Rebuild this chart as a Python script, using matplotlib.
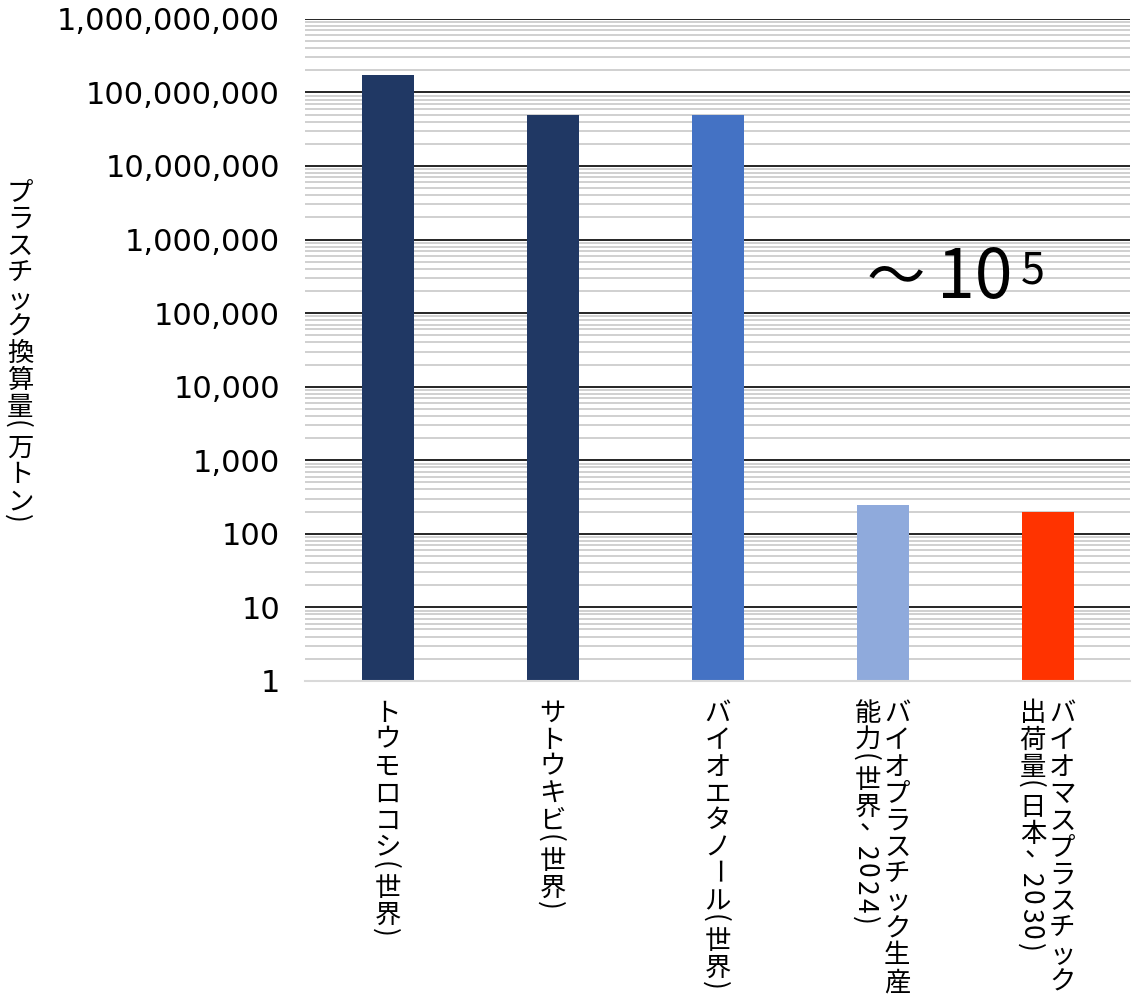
import matplotlib
matplotlib.use("Agg")
import matplotlib.pyplot as plt
import matplotlib.transforms as mtransforms
from matplotlib.font_manager import FontProperties
import numpy as np

plt.rcParams['font.family'] = ['Noto Sans CJK JP', 'DejaVu Sans']

# data (万トン)
categories = [
    ['トウモロコシ(世界)'],
    ['サトウキビ(世界)'],
    ['バイオエタノール(世界)'],
    ['バイオプラスチック生産', '能力(世界、2024)'],
    ['バイオマスプラスチック', '出荷量(日本、2030)'],
]
values = [170000000, 50000000, 50000000, 250, 200]
bar_colors = ['#203864', '#203864', '#4472C4', '#8FAADC', '#FF3300']
y_label = 'プラスチック換算量(万トン)'
y_ticks = [10 ** k for k in range(10)]

FS = 19
fp = FontProperties(family=['Noto Sans CJK JP', 'DejaVu Sans'], size=FS)


def advance(ch):
    # vertical step for one character, in points
    if ch in '()':
        return FS * 0.5
    if ch.isdigit():
        return FS * 0.66
    if ch == ' ':
        return FS * 0.3
    return FS * 1.02


def vertical(fig, x, y, s, trans, dx=0.0, dy=0.0):
    """stack characters top-to-bottom; CJK upright, ascii and ー turned"""
    pos = dy
    for ch in s:
        adv = advance(ch)
        rot = 270 if (ord(ch) < 0x2000 or ch == 'ー') else 0
        ox, oy = 0, 0
        if ch == '、':
            ox, oy = FS * 0.2, FS * 0.45
        fig.text(x, y, ch, transform=trans + mtransforms.ScaledTranslation(
            (dx + ox) / 72.0, -(pos + adv / 2.0 - oy) / 72.0, fig.dpi_scale_trans),
            fontproperties=fp, rotation=rot, rotation_mode='anchor',
            ha='center', va='center_baseline', color='black')
        pos += adv


fig = plt.figure(figsize=(11.34, 9.94), dpi=100)
ax = fig.add_axes([0.269, 0.315, 0.7275, 0.666])

x = np.arange(len(values))
ax.bar(x, values, width=0.315, color=bar_colors, zorder=3)
ax.set_yscale('log')
ax.set_ylim(1, 1e9)
ax.set_xlim(-0.5, 4.5)

ax.set_yticks(y_ticks)
ax.set_yticklabels(['{:,}'.format(v) for v in y_ticks], family='DejaVu Sans', fontsize=22)
ax.yaxis.set_minor_locator(matplotlib.ticker.LogLocator(base=10, subs=np.arange(2, 10), numticks=100))
ax.yaxis.set_minor_formatter(matplotlib.ticker.NullFormatter())
ax.tick_params(axis='y', which='both', length=0, pad=18)
ax.tick_params(axis='x', length=0, labelbottom=False)

ax.grid(which='minor', axis='y', color='#c8c8c8', lw=1.2, zorder=1)
ax.grid(which='major', axis='y', color='black', lw=1.2, zorder=2)
for sp in ['left', 'right', 'top']:
    ax.spines[sp].set_visible(False)
ax.spines['bottom'].set_color('#d9d9d9')
ax.spines['bottom'].set_linewidth(1.5)
ax.spines['bottom'].set_zorder(4)

# category labels, written vertically below each bar
xt = mtransforms.blended_transform_factory(ax.transData, ax.transAxes)
for i, lines in enumerate(categories):
    n = len(lines)
    for j, line in enumerate(lines):
        dx = ((n - 1) / 2.0 - j) * 21
        vertical(fig, i, 0, line, xt, dx=dx, dy=11.5)

# y axis title
vertical(fig, 20 / 1134, 1 - 176 / 994, y_label, fig.transFigure)

ax.text(3.08, 10 ** 5.46, '～', fontsize=42, family='Noto Sans CJK JP',
        ha='center', va='center', zorder=5)
ax.text(3.33, 10 ** 5.46, '10', fontsize=49, family='Noto Sans CJK JP',
        ha='left', va='center', zorder=5)
ax.text(3.84, 10 ** 5.57, '5', fontsize=31, family='Noto Sans CJK JP',
        ha='left', va='center', zorder=5)

fig.savefig('out.png', dpi=100, facecolor='white')
